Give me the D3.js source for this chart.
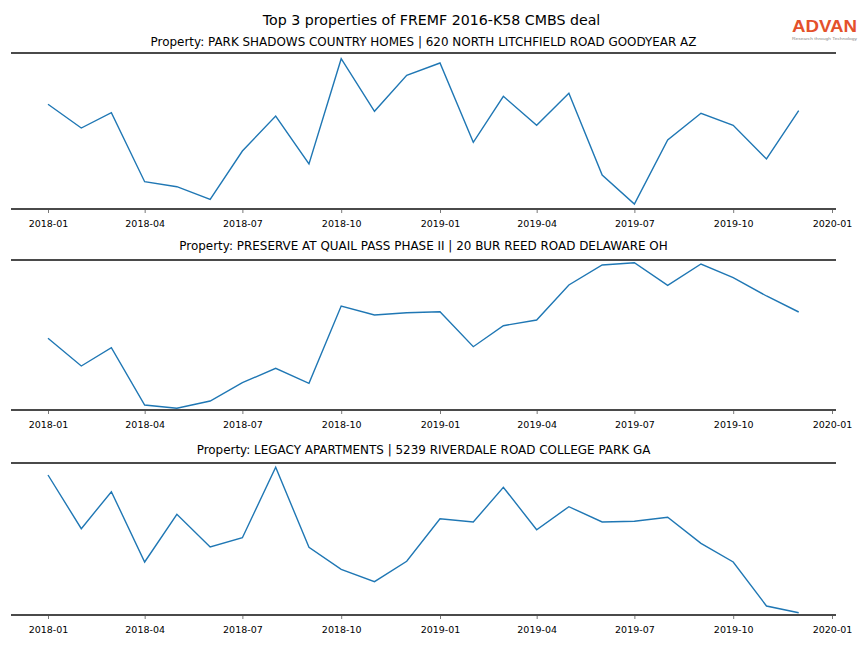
<!DOCTYPE html>
<html>
<head>
<meta charset="utf-8">
<script src="https://cdn.jsdelivr.net/npm/d3@7"></script>
<style>
  body { margin: 0; background: #fff; }
  svg { display: block; font-family: "DejaVu Sans", sans-serif; }
</style>
</head>
<body>
<svg id="chart" width="864" height="648"></svg>
<script>
// ---- data ----
const months = ["2018-01","2018-02","2018-03","2018-04","2018-05","2018-06","2018-07","2018-08","2018-09","2018-10","2018-11","2018-12",
                "2019-01","2019-02","2019-03","2019-04","2019-05","2019-06","2019-07","2019-08","2019-09","2019-10","2019-11","2019-12"];
const tickLabels = ["2018-01","2018-04","2018-07","2018-10","2019-01","2019-04","2019-07","2019-10","2020-01"];
const chartTitle = "Top 3 properties of FREMF 2016-K58 CMBS deal";
const propertyTitles = [
  "Property: PARK SHADOWS COUNTRY HOMES | 620 NORTH LITCHFIELD ROAD GOODYEAR AZ",
  "Property: PRESERVE AT QUAIL PASS PHASE II | 20 BUR REED ROAD DELAWARE OH",
  "Property: LEGACY APARTMENTS | 5239 RIVERDALE ROAD COLLEGE PARK GA"
];
const parkShadows = [104.7, 81, 96.3, 27.3, 22.3, 9.7, 58, 93, 45, 150.3, 97.7, 133.7,
                     146, 66.7, 112.7, 83.7, 115.7, 34, 5, 69, 95.7, 83.7, 50, 98.3];
const quailPass   = [71.7, 44, 62.3, 5, 1.7, 9, 27.3, 41.7, 26.7, 104, 95, 97.3,
                     98.3, 63.3, 84.3, 90, 125, 145, 147.3, 124.7, 146, 132.3, 114, 98];
const legacyApts  = [140, 86.3, 123.3, 53, 100.7, 68, 77.3, 147.7, 67.7, 45.7, 33.3, 53.7,
                     96.3, 93, 127.7, 85.3, 108.3, 93, 93.7, 97.7, 71.7, 53, 9, 2.3];
const yLimits = [[0, 156], [0, 150], [0, 152]];
const seriesList = [parkShadows, quailPass, legacyApts];

// ---- layout ----
const svg = d3.select("#chart");
const W = 864;
const axLeft = 11, axRight = 836;
const panels = [
  {top: 53, bottom: 209, titleY: 42},
  {top: 260, bottom: 410, titleY: 246},
  {top: 463, bottom: 615, titleY: 450}
];
const parse = d3.timeParse("%Y-%m");
const x = d3.scaleTime()
  .domain([parse("2018-01"), parse("2020-01")])
  .range([48, 832]);

svg.append("text")
  .attr("x", 431.5).attr("y", 19.5)
  .attr("text-anchor", "middle").attr("dominant-baseline", "central")
  .attr("font-size", 14.2).attr("fill", "#000")
  .text(chartTitle);

// logo
const logo = svg.append("g");
logo.append("text").attr("x", 792).attr("y", 32)
  .attr("font-size", 16).attr("font-weight", "bold")
  .attr("font-family", "Liberation Sans, Arial, sans-serif")
  .attr("textLength", 65).attr("lengthAdjust", "spacingAndGlyphs")
  .attr("fill", "#e4512b").text("ADVAN");
logo.append("text").attr("x", 792).attr("y", 39.8)
  .attr("font-size", 3.6)
  .attr("font-family", "Liberation Sans, Arial, sans-serif")
  .attr("textLength", 65).attr("lengthAdjust", "spacingAndGlyphs")
  .attr("fill", "#888").text("Research through Technology");

panels.forEach((p, i) => {
  const y = d3.scaleLinear().domain(yLimits[i]).range([p.bottom, p.top]);
  const g = svg.append("g");

  g.append("text")
    .attr("x", 423.5).attr("y", p.titleY)
    .attr("text-anchor", "middle").attr("dominant-baseline", "central")
    .attr("font-size", 11.95).attr("fill", "#000")
    .text(propertyTitles[i]);

  const line = d3.line()
    .x((d, j) => x(parse(months[j])))
    .y(d => y(d));
  g.append("path")
    .datum(seriesList[i])
    .attr("d", line)
    .attr("fill", "none")
    .attr("stroke", "#1f77b4")
    .attr("stroke-width", 1.4)
    .attr("stroke-linejoin", "miter");

  // x axis
  const axis = d3.axisBottom(x)
    .tickValues(tickLabels.map(parse))
    .tickFormat(d3.timeFormat("%Y-%m"))
    .tickSize(4)
    .tickSizeOuter(0);
  const ax = g.append("g").attr("transform", `translate(0,${p.bottom})`).call(axis);
  ax.select(".domain").remove();
  ax.selectAll(".tick line").attr("stroke", "#555").attr("stroke-width", 0.8);
  ax.selectAll(".tick text").attr("font-size", 9.5).attr("fill", "#000")
    .attr("font-family", "DejaVu Sans, sans-serif")
    .attr("dy", null).attr("dominant-baseline", "central").attr("y", 14);

  // spines
  [p.top, p.bottom].forEach(yy => {
    g.append("line")
      .attr("x1", axLeft).attr("x2", axRight)
      .attr("y1", yy).attr("y2", yy)
      .attr("stroke", "#4a4a4a").attr("stroke-width", 2);
  });
});
</script>
</body>
</html>
